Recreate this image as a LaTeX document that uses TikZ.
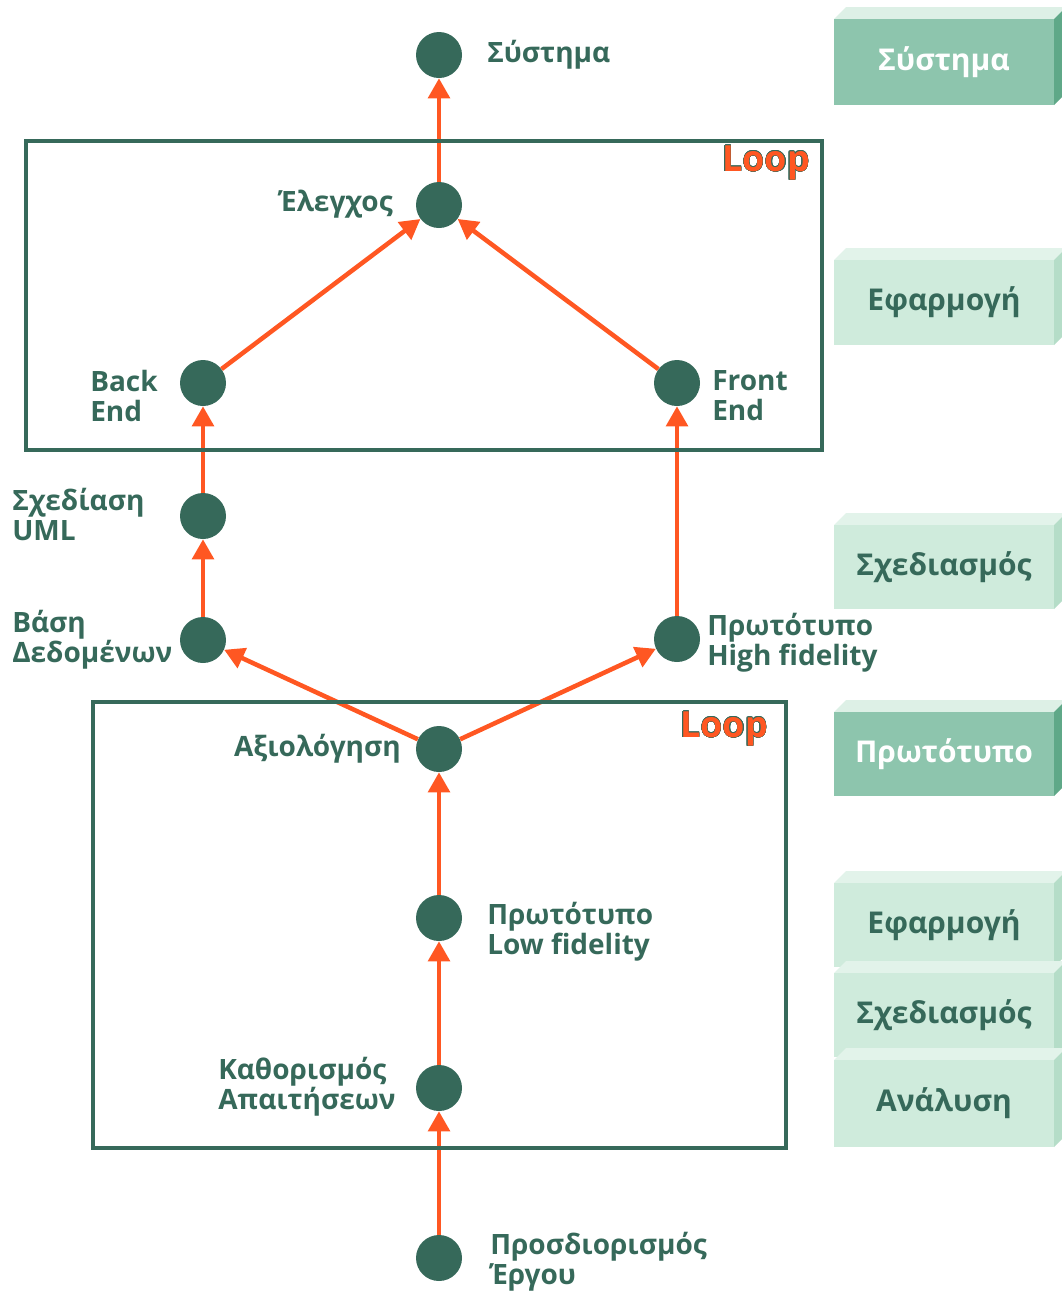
\documentclass[tikz,border=0pt]{standalone}
\usepackage{fontspec}
\setmainfont{Open Sans}
\usepackage{contour}
\usetikzlibrary{arrows.meta}

\definecolor{nodegreen}{HTML}{36695A}
\definecolor{arrorange}{HTML}{FF5722}
\definecolor{darkfront}{HTML}{8DC5AD}
\definecolor{darktop}{HTML}{DDF0E6}
\definecolor{darkside}{HTML}{5FA888}
\definecolor{darktext}{HTML}{FFFFFF}
\definecolor{lightfront}{HTML}{CFEBDC}
\definecolor{lighttop}{HTML}{E2F3EA}
\definecolor{lightside}{HTML}{B5DDC8}
\definecolor{lighttext}{HTML}{36695A}

% stage box: name, top, bottom, colour set, text
\newcommand\stagebox[5]{%
  \fill[#4top] (834,#2) -- (846,#2-12) -- (1066,#2-12) -- (1054,#2) -- cycle;
  \fill[#4side] (1054,#2) -- (1066,#2-12) -- (1066,#3-12) -- (1054,#3) -- cycle;
  \fill[#4front] (834,#2) rectangle (1054,#3);
  \node[lbl,font=\bfseries\fontsize{22.5}{24}\selectfont,text=#4text] (#1) at (944,{(#2+#3)/2}) {#5};
}

\begin{document}
\begin{tikzpicture}[x=0.75pt,y=-0.75pt,
    dot/.style={circle,fill=nodegreen,minimum size=34.5pt,inner sep=0pt},
    lbl/.style={text=nodegreen,font=\bfseries\fontsize{21}{22.5}\selectfont,align=left,inner sep=0pt},
    flow/.style={draw=arrorange,line width=3.4pt,-{Triangle[length=15pt,width=16pt]}},
    frame/.style={draw=nodegreen,line width=3pt},
    looptxt/.style={font=\bfseries\fontsize{27}{29}\selectfont,text=arrorange,inner sep=0pt}]

  \useasboundingbox (0,0) rectangle (1061,1293);

  % nodes
  \node[dot] (sys) at (439,55) {};
  \node[dot] (test) at (439,205) {};
  \node[dot] (back) at (203,383) {};
  \node[dot] (front) at (677,383) {};
  \node[dot] (uml) at (203,516) {};
  \node[dot] (db) at (203,640) {};
  \node[dot] (hifi) at (677,639) {};
  \node[dot] (eval) at (439,749) {};
  \node[dot] (lofi) at (439,918) {};
  \node[dot] (req) at (439,1088) {};
  \node[dot] (proj) at (439,1258) {};

  % labels
  \node[lbl,anchor=west] (sys-l) at (487,55) {Σύστημα};
  \node[lbl,anchor=east] (test-l) at (393,204) {Έλεγχος};
  \node[lbl,anchor=west] (back-l) at (90,396) {Back\\End};
  \node[lbl,anchor=west] (front-l) at (712,396) {Front\\End};
  \node[lbl,anchor=west] (uml-l) at (12,514) {Σχεδίαση\\UML};
  \node[lbl,anchor=west] (db-l) at (12,640) {Βάση\\Δεδομένων};
  \node[lbl,anchor=west] (hifi-l) at (707,643) {Πρωτότυπο\\High fidelity};
  \node[lbl,anchor=east] (eval-l) at (401,749) {Αξιολόγηση};
  \node[lbl,anchor=west] (lofi-l) at (487,932) {Πρωτότυπο\\Low fidelity};
  \node[lbl,anchor=west] (req-l) at (218,1087) {Καθορισμός\\Απαιτήσεων};
  \node[lbl,anchor=west] (proj-l) at (490,1262) {Προσδιορισμός\\Έργου};

  % connectors
  \draw[flow] (test) -- (sys);
  \draw[flow] (back) -- (test);
  \draw[flow] (front) -- (test);
  \draw[flow] (uml) -- (back);
  \draw[flow] (db) -- (uml);
  \draw[flow] (hifi) -- (front);
  \draw[flow] (eval) -- (db);
  \draw[flow] (eval) -- (hifi);
  \draw[flow] (lofi) -- (eval);
  \draw[flow] (req) -- (lofi);
  \draw[flow] (proj) -- (req);

  % loops
  \draw[frame] (26,141) rectangle (822,450);
  \draw[frame] (93,702) rectangle (786,1148);
  \contourlength{0.3pt}
  \node[looptxt] (loop1) at (766,163) {\contour{nodegreen}{Loop}};
  \node[looptxt] (loop2) at (724,729) {\contour{nodegreen}{Loop}};

  % stages
  \stagebox{st-sys}{19}{105}{dark}{Σύστημα}
  \stagebox{st-impl}{260}{345}{light}{Εφαρμογή}
  \stagebox{st-des}{525}{609}{light}{Σχεδιασμός}
  \stagebox{st-proto}{712}{796}{dark}{Πρωτότυπο}
  \stagebox{st-impl2}{883}{967}{light}{Εφαρμογή}
  \stagebox{st-des2}{973}{1057}{light}{Σχεδιασμός}
  \stagebox{st-an}{1060}{1147}{light}{Ανάλυση}
\end{tikzpicture}
\end{document}
